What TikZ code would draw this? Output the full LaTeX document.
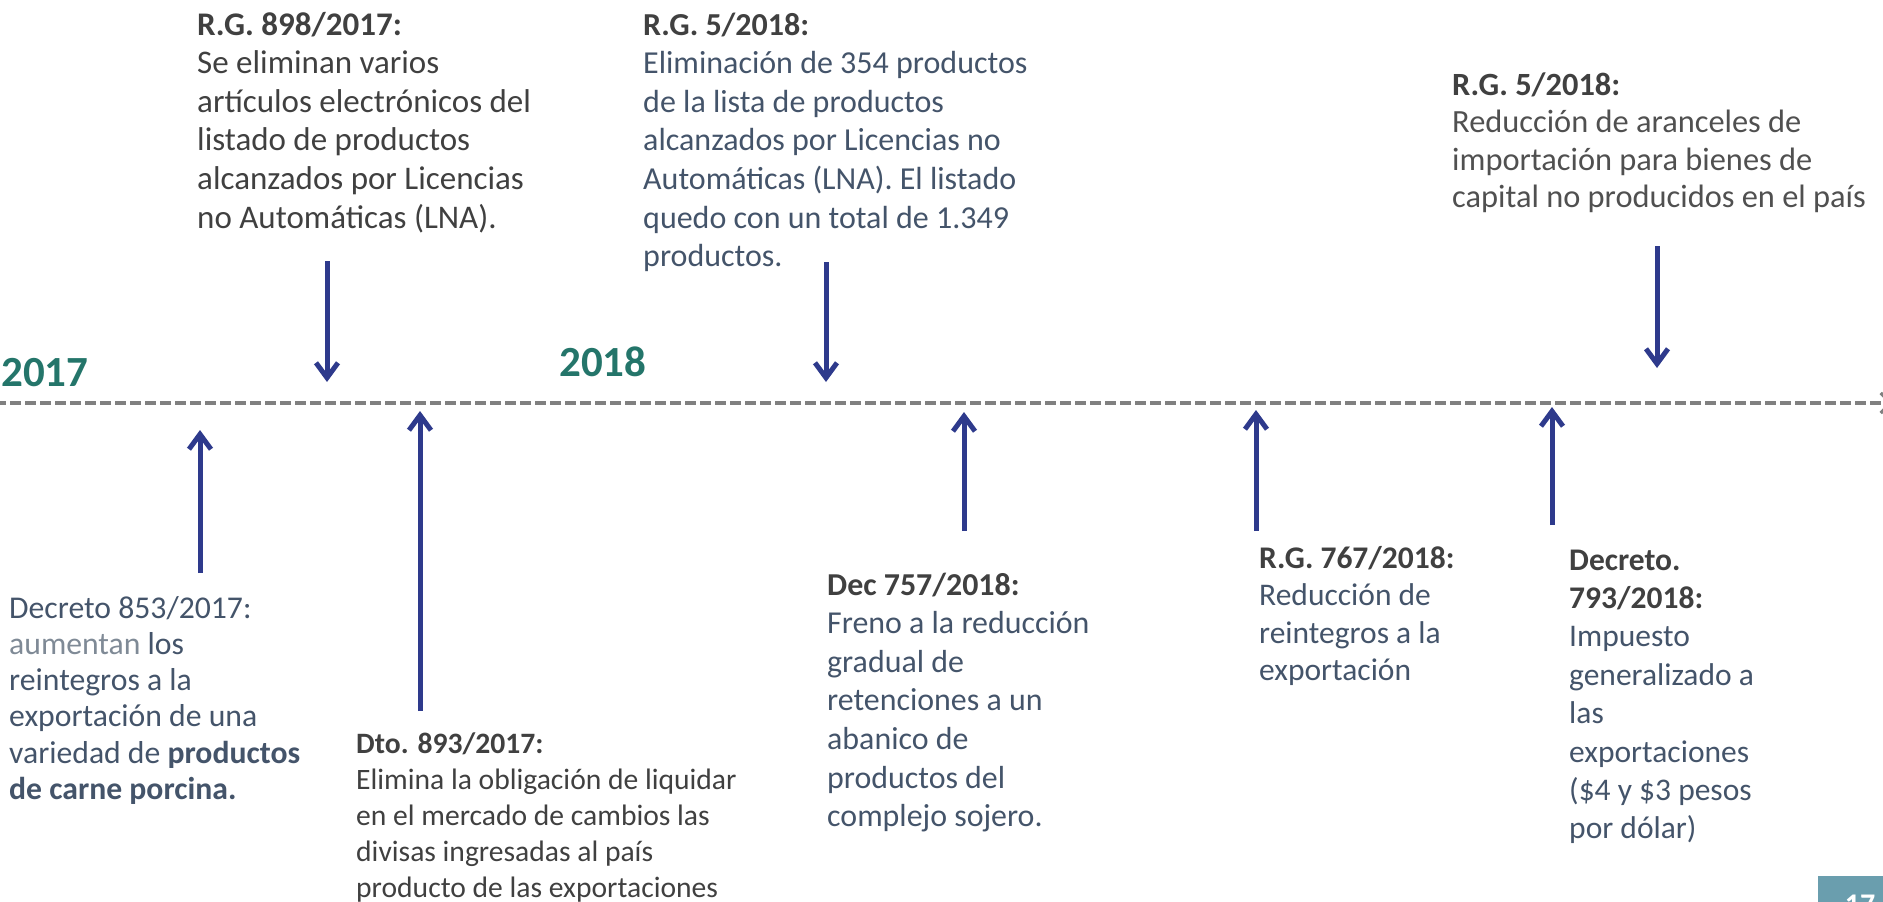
\documentclass[tikz,border=0pt]{standalone}
\usepackage{fontspec}
\setmainfont{Carlito}
\usetikzlibrary{arrows.meta}
\definecolor{tgray}{HTML}{404040}
\definecolor{tgrayb}{HTML}{505050}
\definecolor{tblue}{HTML}{44546A}
\definecolor{tlight}{HTML}{7F8A96}
\definecolor{arrblue}{HTML}{2E3A8C}
\definecolor{yearteal}{HTML}{24756A}
\definecolor{linegray}{HTML}{808080}
\definecolor{pagebox}{HTML}{6A9EAE}
\tikzset{
  blk/.style={anchor=base west, align=left, inner sep=0pt, text=tgray},
  fa/.style={font=\fontsize{33}{38.6}\selectfont},
  fb/.style={font=\fontsize{32}{38.6}\selectfont},
  fc/.style={font=\fontsize{32.4}{37.6}\selectfont},
  fd/.style={font=\fontsize{31.7}{36.3}\selectfont},
  fe/.style={font=\fontsize{29.6}{36}\selectfont},
  ff/.style={font=\fontsize{31.9}{38.6}\selectfont},
  fg/.style={font=\fontsize{31.5}{37.6}\selectfont},
  fh/.style={font=\fontsize{31.5}{38.4}\selectfont},
  year/.style={anchor=base west, inner sep=0pt, text=yearteal, font=\bfseries\fontsize{43}{43}\selectfont},
  evarrow/.style={draw=arrblue, line width=5pt, -{Straight Barb[length=15pt,width=22pt]}},
  timeline/.style={draw=linegray, line width=3.3pt, dash pattern=on 11pt off 4pt, -{Straight Barb[length=10pt,width=20pt]}}
}
\begin{document}
\begin{tikzpicture}[x=1pt,y=-1pt]
\useasboundingbox (0,0) rectangle (1883,902);

% timeline
\coordinate (tlstart) at (-5,403);
\coordinate (tlend) at (1893,403);
\draw[timeline] (tlstart) -- (tlend);

% years
\node[year] (y2017) at (1,386) {2017};
\node[year] (y2018) at (559,376) {2018};

% top blocks (anchored at the baseline of their last line)
\node[blk, fa] (rg898) at (197,228) {\textbf{R.G. 898/2017:}\\Se eliminan varios\\artículos electrónicos del\\listado de productos\\alcanzados por Licencias\\no Automáticas (LNA).};
\node[blk, fb, text=tblue] (rg5a) at (643,266.6) {\textcolor{tgray}{\textbf{R.G. 5/2018:}}\\Eliminación de 354 productos\\de la lista de productos\\alcanzados por Licencias no\\Automáticas (LNA). El listado\\quedo con un total de 1.349\\productos.};
\node[blk, fc, text=tgrayb] (rg5b) at (1452,207.8) {\textcolor{tgray}{\textbf{R.G. 5/2018:}}\\Reducción de aranceles de\\importación para bienes de\\capital no producidos en el país};

% bottom blocks
\node[blk, fd, text=tblue] (dec853) at (9,799.5) {Decreto 853/2017:\\\textcolor{tlight}{aumentan} los\\reintegros a la\\exportación de una\\variedad de \textbf{productos}\\\textbf{de carne porcina.}};
\node[blk, fe] (dto893) at (356,897) {\textbf{Dto. 893/2017:}\\Elimina la obligación de liquidar\\en el mercado de cambios las\\divisas ingresadas al país\\producto de las exportaciones};
\node[blk, ff, text=tblue] (dec757) at (827,826.6) {\textcolor{tgray}{\textbf{Dec 757/2018:}}\\Freno a la reducción\\gradual de\\retenciones a un\\abanico de\\productos del\\complejo sojero.};
\node[blk, fg, text=tblue] (rg767) at (1259,680.8) {\textcolor{tgray}{\textbf{R.G. 767/2018:}}\\Reducción de\\reintegros a la\\exportación};
\node[blk, fh, text=tblue] (dec793) at (1569,838.8) {\textcolor{tgray}{\textbf{Decreto.}}\\\textcolor{tgray}{\textbf{793/2018:}}\\Impuesto\\generalizado a\\las\\exportaciones\\(\$4 y \$3 pesos\\por dólar)};

% arrows down
\coordinate (d1s) at (327,261); \coordinate (d1e) at (327,382);
\coordinate (d2s) at (826,262); \coordinate (d2e) at (826,382);
\coordinate (d3s) at (1657,246); \coordinate (d3e) at (1657,368);
\draw[evarrow] (d1s) -- (d1e);
\draw[evarrow] (d2s) -- (d2e);
\draw[evarrow] (d3s) -- (d3e);

% arrows up
\coordinate (u1s) at (200,573); \coordinate (u1e) at (200,430);
\coordinate (u2s) at (420,711); \coordinate (u2e) at (420,411);
\coordinate (u3s) at (964,531); \coordinate (u3e) at (964,412);
\coordinate (u4s) at (1256,531); \coordinate (u4e) at (1256,410);
\coordinate (u5s) at (1552,525); \coordinate (u5e) at (1552,407);
\draw[evarrow] (u1s) -- (u1e);
\draw[evarrow] (u2s) -- (u2e);
\draw[evarrow] (u3s) -- (u3e);
\draw[evarrow] (u4s) -- (u4e);
\draw[evarrow] (u5s) -- (u5e);

% page number
\fill[pagebox] (1818,876) rectangle (1895,915);
\node[anchor=base, inner sep=0pt, text=white, font=\bfseries\fontsize{30}{30}\selectfont] (pagenum) at (1860,914) {17};
\end{tikzpicture}
\end{document}
